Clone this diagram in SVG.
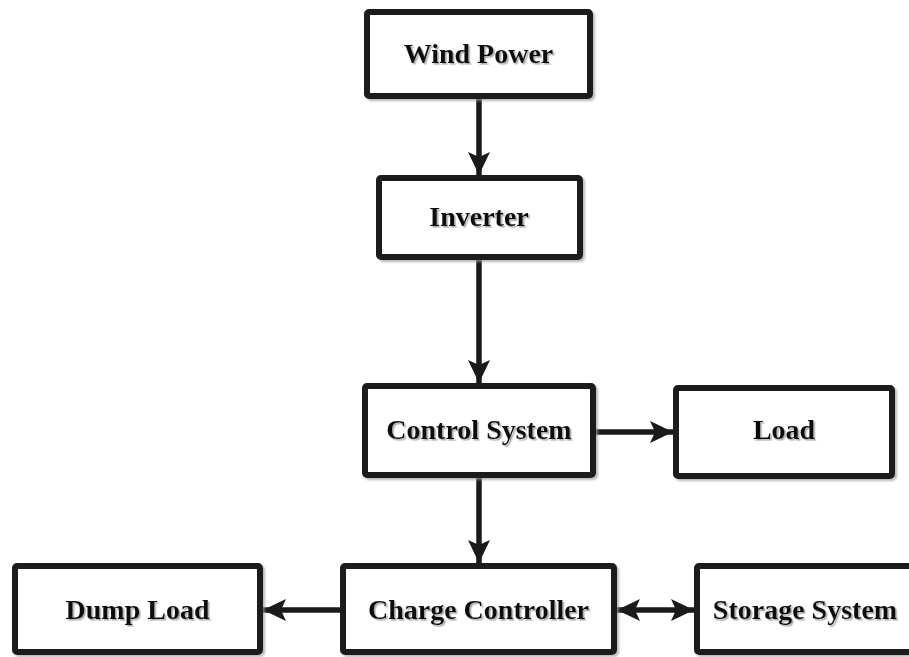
<svg xmlns="http://www.w3.org/2000/svg" width="909" height="657" viewBox="0 0 909 657">
  <defs>
    <filter id="boxShadow" x="-5%" y="-5%" width="115%" height="120%">
      <feDropShadow dx="2" dy="2" stdDeviation="1.2" flood-color="#9a9a9a" flood-opacity="0.7"/>
    </filter>
    <filter id="textShadow" x="-5%" y="-20%" width="115%" height="150%">
      <feDropShadow dx="1.6" dy="1.6" stdDeviation="0.7" flood-color="#999999" flood-opacity="0.8"/>
    </filter>
    <marker id="arrow" markerUnits="userSpaceOnUse" markerWidth="24" markerHeight="24" viewBox="0 0 24 24" refX="23" refY="12" orient="auto-start-reverse">
      <path d="M0,1 L23,12 L0,23 L5,12 Z" fill="#1a1a1a"/>
    </marker>
  </defs>
  <style>
    .box { fill: #ffffff; stroke: #1a1a1a; stroke-width: 6; filter: url(#boxShadow); }
    .label { font-family: "Liberation Serif", "Times New Roman", serif; font-weight: bold; font-size: 28px; fill: #111111; text-anchor: middle; filter: url(#textShadow); }
    .conn { stroke: #1a1a1a; stroke-width: 5.5; fill: none; }
  </style>
  <rect width="909" height="657" fill="#ffffff"/>
  <g id="connectors">
    <line class="conn" x1="479" y1="99" x2="479" y2="175" marker-end="url(#arrow)"/>
    <line class="conn" x1="479" y1="260" x2="479" y2="383" marker-end="url(#arrow)"/>
    <line class="conn" x1="596" y1="432" x2="673" y2="432" marker-end="url(#arrow)"/>
    <line class="conn" x1="479" y1="478" x2="479" y2="563" marker-end="url(#arrow)"/>
    <line class="conn" x1="340" y1="610" x2="263" y2="610" marker-end="url(#arrow)"/>
    <line class="conn" x1="617" y1="610" x2="694" y2="610" marker-start="url(#arrow)" marker-end="url(#arrow)"/>
  </g>
  <g id="wind-power">
    <rect class="box" x="367" y="12" width="223" height="84" rx="2"/>
    <text class="label" x="478.5" y="63">Wind Power</text>
  </g>
  <g id="inverter">
    <rect class="box" x="379" y="178" width="201" height="79" rx="2"/>
    <text class="label" x="479" y="226">Inverter</text>
  </g>
  <g id="control-system">
    <rect class="box" x="365" y="386" width="228" height="89" rx="2"/>
    <text class="label" x="479" y="439">Control System</text>
  </g>
  <g id="load">
    <rect class="box" x="676" y="388" width="216" height="88" rx="2"/>
    <text class="label" x="784" y="439">Load</text>
  </g>
  <g id="dump-load">
    <rect class="box" x="15" y="566" width="245" height="86" rx="2"/>
    <text class="label" x="137.5" y="619">Dump Load</text>
  </g>
  <g id="charge-controller">
    <rect class="box" x="343" y="566" width="271" height="86" rx="2"/>
    <text class="label" x="478.5" y="619">Charge Controller</text>
  </g>
  <g id="storage-system">
    <rect class="box" x="697" y="566" width="218" height="86" rx="2"/>
    <text class="label" x="805" y="619">Storage System</text>
  </g>
</svg>
